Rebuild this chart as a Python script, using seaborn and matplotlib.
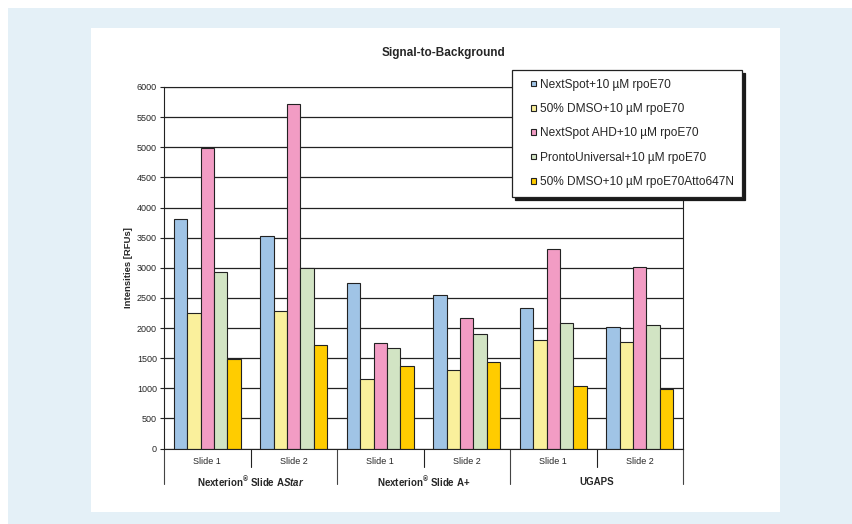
import matplotlib
matplotlib.use("Agg")
import matplotlib.pyplot as plt
import matplotlib.transforms as mtrans
from matplotlib.patches import Rectangle
from matplotlib.legend_handler import HandlerPatch
import seaborn as sns
import pandas as pd

# data
slides = ["AStar 1", "AStar 2", "A+ 1", "A+ 2", "UGAPS 1", "UGAPS 2"]
slide_labels = ["Slide 1", "Slide 2", "Slide 1", "Slide 2", "Slide 1", "Slide 2"]
groups = ["Nexterion$^{®}$ Slide A$\\mathit{Star}$", "Nexterion$^{®}$ Slide A+", "UGAPS"]
series = ["NextSpot+10 µM rpoE70",
          "50% DMSO+10 µM rpoE70",
          "NextSpot AHD+10 µM rpoE70",
          "ProntoUniversal+10 µM rpoE70",
          "50% DMSO+10 µM rpoE70Atto647N"]
nextspot = [3810, 3530, 2740, 2540, 2340, 2015]
dmso = [2250, 2290, 1160, 1300, 1805, 1775]
ahd = [4980, 5720, 1750, 2170, 3310, 3015]
pronto = [2930, 3000, 1675, 1905, 2090, 2055]
atto = [1490, 1720, 1370, 1430, 1040, 985]
colors = ["#a0c4e6", "#faf09c", "#f29cc4", "#d2e4c4", "#ffcc00"]

rows = []
for name, vals in zip(series, [nextspot, dmso, ahd, pronto, atto]):
    for s, v in zip(slides, vals):
        rows.append({"slide": s, "series": name, "value": v})
df = pd.DataFrame(rows)

sns.set_style("white")
plt.rcParams["font.family"] = ["Liberation Sans", "DejaVu Sans"]
plt.rcParams["mathtext.fontset"] = "custom"
plt.rcParams["mathtext.rm"] = "Liberation Sans:bold"
plt.rcParams["mathtext.it"] = "Liberation Sans:bold:italic"
plt.rcParams["mathtext.bf"] = "Liberation Sans:bold"

W, H = 852, 524
fig = plt.figure(figsize=(W / 100, H / 100), dpi=100)
fig.patch.set_facecolor("white")
fig.patches.append(Rectangle((8 / W, 0), 844 / W, 516 / H, transform=fig.transFigure,
                             facecolor="#e4f0f7", edgecolor="none", zorder=-2))
fig.patches.append(Rectangle((91 / W, 12 / H), 689 / W, 484 / H, transform=fig.transFigure,
                             facecolor="white", edgecolor="none", zorder=-1))

ax = fig.add_axes([164 / W, 1 - 448.5 / H, 519 / W, 361.5 / H])
ax.set_facecolor("none")
sns.barplot(data=df, x="slide", y="value", hue="series", palette=colors,
            width=0.77, gap=0, edgecolor="#222222", linewidth=0.8, ax=ax,
            errorbar=None, saturation=1)

ax.set_ylim(0, 6000)
ax.set_yticks(range(0, 6001, 500))
ax.yaxis.grid(True, color="#222222", linewidth=0.9)
ax.set_axisbelow(True)
ax.set_xlim(-0.5, 5.5)
ax.set_xticks([])
ax.set_xlabel("")
ax.set_ylabel("Intensities [RFUs]", fontsize=6.8, fontweight="bold", labelpad=3)
ax.tick_params(axis="y", labelsize=6.5, length=3, width=0.8, direction="out",
               color="#222222", pad=2, left=True)
for sp in ax.spines.values():
    sp.set_color("#222222")
    sp.set_linewidth(0.8)

# category axis: slide labels, group labels, separators
tr = mtrans.blended_transform_factory(ax.transData, ax.transAxes)
px = 1 / 361.5
for i, lab in enumerate(slide_labels):
    ax.text(i, -13.5 * px, lab, transform=tr, ha="center", va="center", fontsize=6.5)
for i, g in enumerate(groups):
    ax.text(2 * i + 0.5, -33.5 * px, g, transform=tr, ha="center", va="center",
            fontsize=7, fontweight="bold")
for xpos in [0.5, 2.5, 4.5]:
    ax.plot([xpos, xpos], [0, -18 * px], transform=tr, color="#222222",
            lw=0.8, clip_on=False)
for xpos in [-0.5, 1.5, 3.5, 5.5]:
    ax.plot([xpos, xpos], [0, -35 * px], transform=tr, color="#444444",
            lw=0.8, clip_on=False)

fig.text(443 / W, 1 - 53 / H, "Signal-to-Background", ha="center", va="center",
         fontsize=8.5, fontweight="bold")


def small_square(legend, orig_handle, xdescent, ydescent, width, height, fontsize):
    s = 4.0
    return Rectangle((-xdescent + width - s, -ydescent + (height - s) / 2), s, s)


handles, labels = ax.get_legend_handles_labels()
leg = ax.legend(handles, labels, loc="upper left", bbox_to_anchor=(512 / W, 1 - 70 / H),
                bbox_transform=fig.transFigure, frameon=True, fancybox=False,
                shadow={"facecolor": "#1a1a1a", "edgecolor": "#1a1a1a", "alpha": 1},
                edgecolor="#222222", framealpha=1, fontsize=8.6, handlelength=1.3,
                handleheight=0.7, handletextpad=0.3, labelspacing=1.04,
                borderpad=0.72, borderaxespad=0,
                handler_map={h: HandlerPatch(patch_func=small_square) for h in handles})
leg.get_frame().set_linewidth(0.9)

fig.savefig("out.png", dpi=100)
